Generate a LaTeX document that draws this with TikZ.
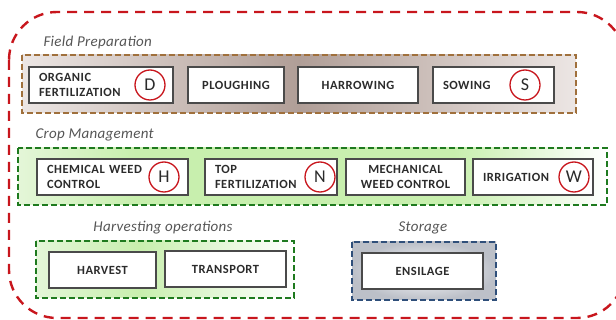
\documentclass[tikz,border=0pt]{standalone}
\usepackage{fontspec}
\setmainfont{Carlito}
\definecolor{redline}{HTML}{C8161D}
\definecolor{brownline}{HTML}{A0703C}
\definecolor{greenline}{HTML}{1E7A1E}
\definecolor{navyline}{HTML}{2F4F7A}
\definecolor{boxline}{HTML}{4A4A4A}
\definecolor{txt}{HTML}{2B2B2B}
\definecolor{labeltxt}{HTML}{555555}
\definecolor{brownend}{HTML}{ECE6E4}
\definecolor{brownside}{HTML}{CDC0BB}
\definecolor{brownmid}{HTML}{B09E97}
\definecolor{greenend}{HTML}{E4F6D8}
\definecolor{greenmid}{HTML}{C8EFAE}
\definecolor{storeout}{HTML}{BCC0C8}
% horizontal colour bands for the group backgrounds
\pgfdeclarehorizontalshading{brownband}{100bp}{color(0bp)=(brownend); color(25bp)=(brownend);
  color(38bp)=(brownside); color(50bp)=(brownmid); color(62bp)=(brownside);
  color(75bp)=(brownend); color(100bp)=(brownend)}
\pgfdeclarehorizontalshading{greenband}{100bp}{color(0bp)=(greenend); color(25bp)=(greenend);
  color(35bp)=(greenmid); color(62bp)=(greenmid); color(75bp)=(white); color(100bp)=(white)}
\pgfdeclarehorizontalshading{harvestband}{100bp}{color(0bp)=(greenend); color(25bp)=(greenend);
  color(45bp)=(greenmid); color(75bp)=(white); color(100bp)=(white)}
\tikzset{
  task/.style={draw=boxline, line width=1.1pt, fill=white, minimum height=36pt,
    inner ysep=0pt, font=\bfseries\fontsize{12.5}{15}\selectfont\addfontfeatures{LetterSpace=4}, text=txt},
  taskl/.style={task, align=left, inner xsep=10pt},
  taskc/.style={task, align=center, inner xsep=0pt},
  tag/.style={circle, draw=redline, line width=1.3pt, minimum size=30pt, inner sep=0pt,
    font=\fontsize{18}{18}\selectfont, text=txt},
  grouplabel/.style={font=\itshape\fontsize{15}{15}\selectfont\addfontfeatures{LetterSpace=2}, text=labeltxt},
  groupframe/.style={line width=2.2pt, dash pattern=on 6pt off 3pt}
}
\begin{document}
\begin{tikzpicture}[x=1pt, y=-1pt]
\useasboundingbox (0,0) rectangle (616,320);
\clip (0,0) rectangle (616,320);

% overall boundary
\draw[redline, line width=2.4pt, dash pattern=on 10pt off 7pt, rounded corners=48pt]
  (9,12) rectangle (625,318);

% Field Preparation
\node[grouplabel, anchor=base west] (lfp) at (40,47) {Field Preparation};
\shade[shading=brownband] (22,55) rectangle (576,113);
\draw[groupframe, brownline] (22,55) rectangle (576,113);
\node[taskl, minimum width=144pt, text width=124pt] (org) at (101,85) {ORGANIC\\FERTILIZATION};
\node[taskc, minimum width=96pt] (plo) at (236,85) {PLOUGHING};
\node[taskc, minimum width=120pt] (har) at (358,85) {HARROWING};
\node[taskl, minimum width=121pt, text width=101pt] (sow) at (493.5,85) {SOWING};
\node[tag] (tD) at (150,85) {D};
\node[tag] (tS) at (525,85) {S};

% Crop Management
\node[grouplabel, anchor=base west] (lcm) at (32,139) {Crop Management};
\shade[shading=greenband] (18,148) rectangle (607,205);
\draw[groupframe, greenline] (18,148) rectangle (607,205);
\node[taskl, minimum width=151pt, text width=131pt] (chw) at (112.5,177) {CHEMICAL WEED\\CONTROL};
\node[taskl, minimum width=132pt, text width=112pt] (top) at (271,177) {TOP\\FERTILIZATION};
\node[taskc, minimum width=119pt] (mec) at (405.5,177) {MECHANICAL\\WEED CONTROL};
\node[taskl, minimum width=120pt, text width=100pt] (irr) at (533,177) {IRRIGATION};
\node[tag] (tH) at (164,177) {H};
\node[tag] (tN) at (320,177) {N};
\node[tag] (tW) at (574,177) {W};

% Harvesting operations
\node[grouplabel, anchor=base] (lho) at (163,232) {Harvesting operations};
\shade[shading=harvestband] (36,241) rectangle (294,298);
\draw[groupframe, greenline] (36,241) rectangle (294,298);
\node[taskc, minimum width=107pt] (hv) at (102.5,270) {HARVEST};
\node[taskc, minimum width=121pt] (tr) at (225.5,269) {TRANSPORT};

% Storage
\node[grouplabel, anchor=base] (lst) at (423,232) {Storage};
\shade[inner color=white, outer color=storeout] (352,242) rectangle (496,300);
\draw[groupframe, navyline] (352,242) rectangle (496,300);
\node[taskc, minimum width=121pt] (ens) at (422.5,271) {ENSILAGE};
\end{tikzpicture}
\end{document}
